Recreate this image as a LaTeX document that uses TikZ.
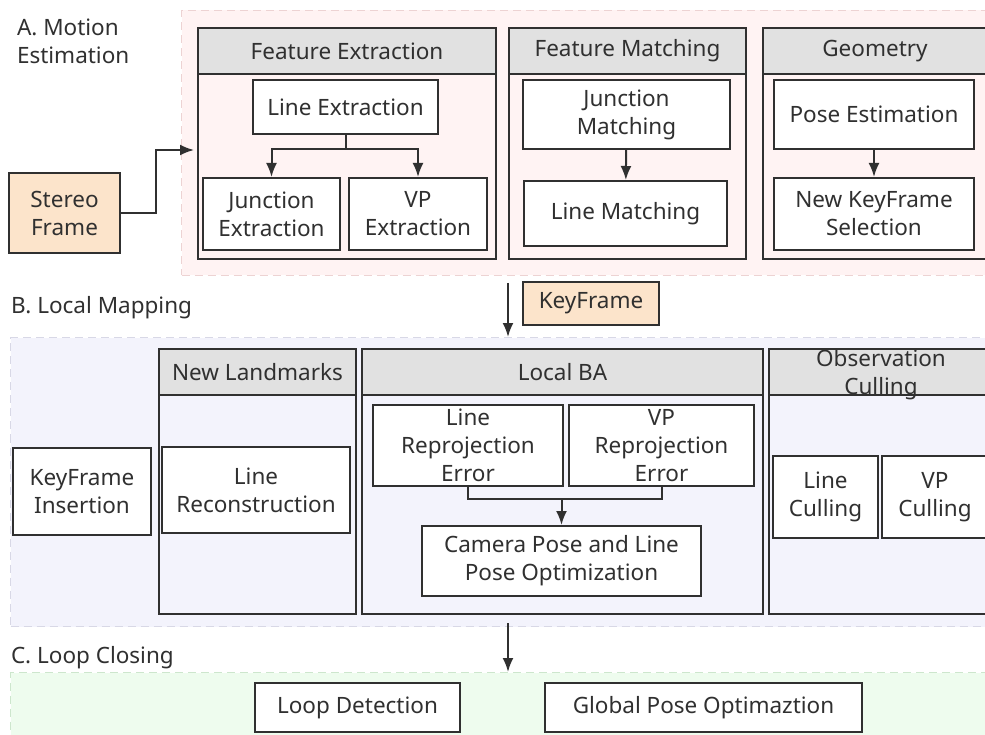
\documentclass[tikz,border=0pt]{standalone}
\usepackage{fontspec}
\setmainfont{Noto Sans}
\usetikzlibrary{arrows.meta}

\definecolor{ink}{HTML}{303030}
\definecolor{headgray}{HTML}{E1E1E1}
\definecolor{peachfill}{HTML}{FCE4CB}
\definecolor{pinkbg}{HTML}{FFF3F3}
\definecolor{pinkline}{HTML}{EDD3D3}
\definecolor{lilacbg}{HTML}{F3F3FC}
\definecolor{lilacline}{HTML}{D8D8E6}
\definecolor{greenbg}{HTML}{EEFCEE}
\definecolor{greenline}{HTML}{CDE6CD}

\begin{document}
\begin{tikzpicture}[x = 1pt, y = -1pt, color = ink, line width = 2pt,
                    font = \fontsize{22.5}{28}\selectfont,
                    region/.style = {draw, dash pattern = on 8pt off 5pt, line width = 1pt,
                                     anchor = north west, inner sep = 0},
                    panel/.style = {draw, anchor = north west, inner sep = 0},
                    head/.style = {panel, fill = headgray, align = center, minimum height = 46},
                    proc/.style = {draw, fill = white, align = center, inner sep = 0},
                    peach/.style = {proc, fill = peachfill},
                    arr/.style = {-{Latex[length = 14pt, width = 11pt]}},
                    tag/.style = {anchor = west, align = left, inner sep = 0}]
  \useasboundingbox (0, 0) rectangle (985, 735);
  \clip (0, 0) rectangle (985, 735);

  % stage backgrounds
  \node [region, draw = pinkline, fill = pinkbg, minimum width = 830, minimum height = 265] (regA) at (181, 10){};
  \node [region, draw = lilacline, fill = lilacbg, minimum width = 990, minimum height = 289] (regB) at (10, 337){};
  \node [region, draw = greenline, fill = greenbg, minimum width = 990, minimum height = 90] (regC) at (10, 672){};

  \node [tag] (labA) at (16, 41){A. Motion\\Estimation};
  \node [tag] (labB) at (10, 308){B. Local Mapping};
  \node [tag] (labC) at (10, 658){C. Loop Closing};

  % motion estimation
  \node [panel, minimum width = 298, minimum height = 231] (featpanel) at (197, 27){};
  \node [head, minimum width = 298] (feathead) at (197, 27){Feature Extraction};
  \node [panel, minimum width = 237, minimum height = 231] (matchpanel) at (508, 27){};
  \node [head, minimum width = 237] (matchhead) at (508, 27){Feature Matching};
  \node [panel, minimum width = 240, minimum height = 231] (geopanel) at (762, 27){};
  \node [head, minimum width = 240] (geohead) at (762, 27){\hspace*{-16pt}Geometry};

  \node [peach, minimum width = 111, minimum height = 80] (stereo) at (64.5, 213){Stereo\\Frame};
  \node [proc, minimum width = 185, minimum height = 54] (lineext) at (345.5, 107){Line Extraction};
  \node [proc, minimum width = 137, minimum height = 72] (junext) at (271.5, 214){Junction\\Extraction};
  \node [proc, minimum width = 138, minimum height = 72] (vpext) at (418, 214){VP\\Extraction};
  \node [proc, minimum width = 207, minimum height = 69] (junmatch) at (626.5, 114.5){Junction\\Matching};
  \node [proc, minimum width = 203, minimum height = 65] (linematch) at (625.5, 213.5){Line Matching};
  \node [proc, minimum width = 200, minimum height = 69] (poseest) at (874, 114.5){Pose Estimation};
  \node [proc, minimum width = 200, minimum height = 72] (newkf) at (874, 214){New KeyFrame\\Selection};

  \coordinate (featin) at (194, 150);
  \draw [arr] (stereo.east) -- ++(35, 0) |- (featin);
  \draw [arr] (lineext.south) -- ++(0, 14) -| (junext.north);
  \draw [arr] (lineext.south) -- ++(0, 14) -| (vpext.north);
  \draw [arr] (junmatch) -- (linematch);
  \draw [arr] (poseest) -- (newkf);

  % keyframe hand-over
  \node [peach, minimum width = 136, minimum height = 43] (keyframe) at (591, 303.5){KeyFrame};
  \coordinate (kfout) at (508, 283);
  \draw [arr] (kfout) -- (kfout |- regB.north);

  % local mapping
  \node [proc, minimum width = 138, minimum height = 87] (kfins) at (82, 491.5){KeyFrame\\Insertion};

  \node [panel, minimum width = 197, minimum height = 265] (lmpanel) at (158, 348){};
  \node [head, minimum width = 197] (lmhead) at (158, 348){New Landmarks};
  \node [proc, minimum width = 188, minimum height = 86] (linerec) at (256, 490){Line\\Reconstruction};

  \node [panel, minimum width = 401, minimum height = 265] (bapanel) at (361, 348){};
  \node [head, minimum width = 401] (bahead) at (361, 348){Local BA};
  \node [proc, minimum width = 190, minimum height = 81] (lrep) at (468, 445.5){Line\\Reprojection\\Error};
  \node [proc, minimum width = 185, minimum height = 81] (vprep) at (661.5, 445.5){VP\\Reprojection\\Error};
  \node [proc, minimum width = 279, minimum height = 70] (campose) at (561.5, 561){Camera Pose and Line\\Pose Optimization};
  \coordinate (merge) at (561.5, 499);
  \draw (lrep.south) |- (merge) -| (vprep.south);
  \draw [arr] (merge) -- (campose.north);

  % title runs over the header's lower edge
  \node [panel, minimum width = 240, minimum height = 265] (ocpanel) at (768, 348){};
  \node [head, minimum width = 240] (ochead) at (768, 348){};
  \node [align = center, inner sep = 0] (octitle) at ([xshift = -8pt, yshift = -3pt]ochead.center){Observation\\Culling};
  \node [proc, minimum width = 105, minimum height = 82] (lcull) at (825.5, 497){Line\\Culling};
  \node [proc, minimum width = 106, minimum height = 82] (vpcull) at (935, 497){VP\\Culling};

  % loop closing
  \coordinate (bout) at (kfout |- regB.south);
  \draw [arr] ([yshift = 4]bout) -- (bout |- regC.north);
  \node [proc, minimum width = 205, minimum height = 49] (loopdet) at (357.5, 707.5){Loop Detection};
  \node [proc, minimum width = 317, minimum height = 49] (globopt) at (703.5, 707.5){Global Pose Optimaztion};
\end{tikzpicture}
\end{document}
